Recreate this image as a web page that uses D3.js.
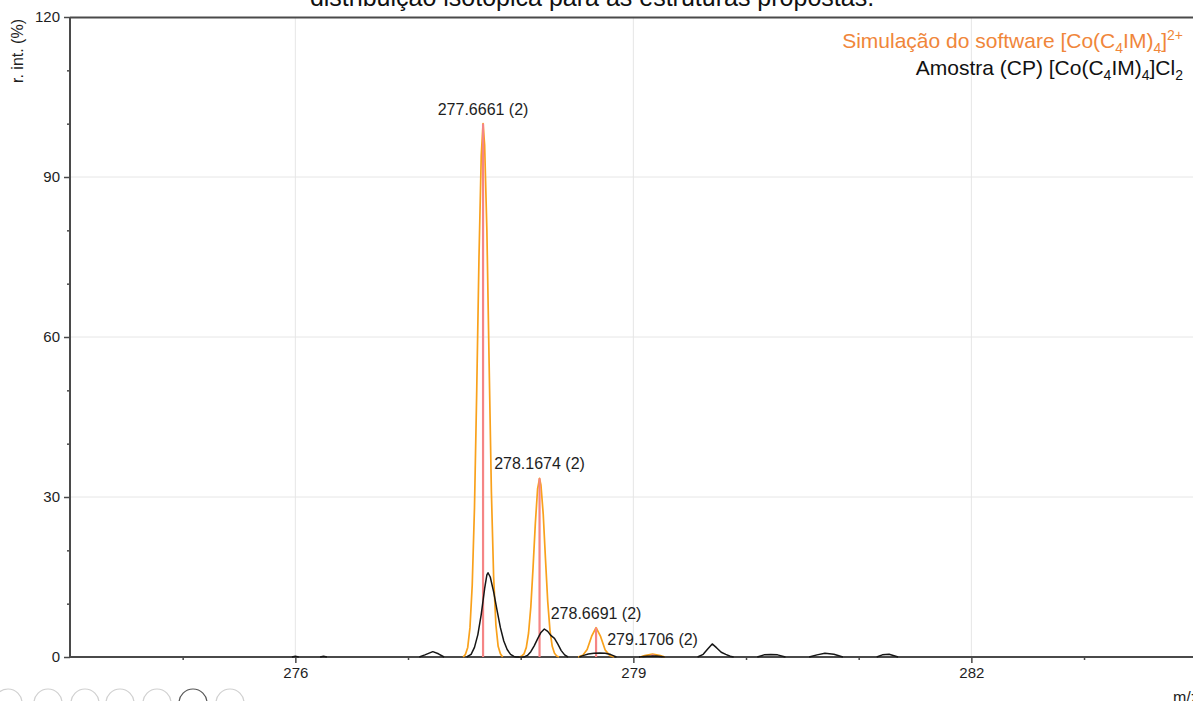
<!DOCTYPE html>
<html>
<head>
<meta charset="utf-8">
<script src="https://cdn.jsdelivr.net/npm/d3@7"></script>
<style>
  html, body { margin: 0; padding: 0; background: #fff; }
  svg { display: block; font-family: Arial, "Liberation Sans", sans-serif; }
</style>
</head>
<body>
<svg id="chart" width="1193" height="701"></svg>
<script>
// ---- Data ----
const titleText = "distribuição isotópica para as estruturas propostas.";
const xTickLabels = [276, 279, 282];
const xMinorTicks = [275, 277, 278, 280, 281, 283];
const yTickLabels = [0, 30, 60, 90, 120];
const yMinorTicks = [10, 20, 40, 50, 70, 80, 100, 110];

// Centroid sticks of the simulation (m/z, intensity %)
const stickMz = [277.6661, 278.1674, 278.6691, 279.1706];
const stickInt = [100, 33.5, 5.5, 0.55];
const stickLabels = ["277.6661 (2)", "278.1674 (2)", "278.6691 (2)", "279.1706 (2)"];

// Simulated profile (orange), segments separated by null
const simMz = [
  277.49, 277.51, 277.53, 277.55, 277.57, 277.59, 277.61, 277.63, 277.65, 277.6661, 277.68, 277.70, 277.72, 277.74, 277.76, 277.78, 277.80, 277.82, 277.84, null,
  277.99, 278.01, 278.03, 278.05, 278.07, 278.09, 278.11, 278.13, 278.15, 278.1674, 278.18, 278.20, 278.22, 278.24, 278.26, 278.28, 278.30, 278.32, 278.34, null,
  278.51, 278.55, 278.59, 278.63, 278.6691, 278.71, 278.75, 278.79, 278.83, null,
  279.06, 279.10, 279.1706, 279.24, 279.28
];
const simInt = [
  0, 0.5, 1.8, 5.5, 13.5, 28, 50, 75, 94, 100, 96, 80, 55, 31, 15, 6, 2, 0.6, 0, null,
  0, 0.2, 0.6, 1.8, 4.5, 9.4, 16.8, 25, 31.5, 33.5, 32.2, 26.8, 18.4, 10.4, 5, 2, 0.7, 0.2, 0, null,
  0, 0.3, 1.4, 3.9, 5.5, 3.8, 1.3, 0.3, 0, null,
  0, 0.25, 0.55, 0.25, 0
];

// Measured sample profile (black), segments separated by null
const sampleMz = [
  275.97, 276.00, 276.03, null,
  276.22, 276.25, 276.28, null,
  277.10, 277.15, 277.22, 277.27, 277.32, null,
  277.52, 277.56, 277.59, 277.62, 277.65, 277.68, 277.70, 277.71, 277.73, 277.76, 277.79, 277.82, 277.85, 277.88, 277.91, 277.94, 277.96,
  278.03, 278.06, 278.09, 278.12, 278.15, 278.18, 278.21, 278.24, 278.27, 278.30, 278.33, 278.36, 278.39, 278.42, null,
  278.52, 278.56, 278.60, 278.65, 278.70, 278.75, 278.80, 278.85, null,
  279.05, 279.12, 279.20, 279.28, null,
  279.57, 279.62, 279.66, 279.70, 279.74, 279.78, 279.82, 279.86, 279.89, null,
  280.10, 280.16, 280.22, 280.28, 280.35, null,
  280.56, 280.63, 280.70, 280.78, 280.86, null,
  281.16, 281.21, 281.27, 281.35
];
const sampleInt = [
  0, 0.12, 0, null,
  0, 0.12, 0, null,
  0, 0.4, 1.0, 0.6, 0, null,
  0, 0.5, 1.8, 4.2, 8.0, 12.8, 15.4, 15.8, 15.0, 12.2, 8.8, 5.5, 3.0, 1.4, 0.5, 0.1, 0,
  0, 0.3, 1.0, 2.1, 3.4, 4.6, 5.25, 4.8, 4.0, 3.5, 2.4, 1.2, 0.4, 0, null,
  0, 0.3, 0.55, 0.7, 0.75, 0.7, 0.45, 0, null,
  0, 0.15, 0.2, 0, null,
  0, 0.5, 1.5, 2.45, 1.7, 0.9, 0.5, 0.15, 0, null,
  0, 0.4, 0.45, 0.4, 0, null,
  0, 0.4, 0.7, 0.5, 0, null,
  0, 0.4, 0.5, 0
];

const legendSim = "Simulação do software";
const legendSample = "Amostra (CP)";

// ---- Layout ----
const svg = d3.select("#chart");
const plotLeft = 70, plotTop = 17, plotBottom = 657;
const x = d3.scaleLinear().domain([274, 284]).range([plotLeft, plotLeft + 10 * 112.67]);
const y = d3.scaleLinear().domain([0, 120]).range([plotBottom, plotTop]);

const cOrange = "#f9a11b";
const cRed = "#f58585";
const cLegend = "#f0863a";
const cAxis = "#4a4a4a";
const cText = "#1e1e1e";

// Title (clipped at top)
svg.append("text").attr("x", 592).attr("y", 6).attr("text-anchor", "middle")
  .attr("font-size", 25).attr("fill", "#111").text(titleText);

// Gridlines
svg.append("g").selectAll("line").data([30, 60, 90]).join("line")
  .attr("x1", plotLeft).attr("x2", 1193).attr("y1", d => y(d)).attr("y2", d => y(d))
  .attr("stroke", "#e6e6e6").attr("stroke-width", 1);
svg.append("g").selectAll("line").data(xTickLabels).join("line")
  .attr("x1", d => x(d)).attr("x2", d => x(d)).attr("y1", plotTop).attr("y2", plotBottom)
  .attr("stroke", "#e6e6e6").attr("stroke-width", 1);

// Top frame line
svg.append("line").attr("x1", plotLeft).attr("x2", 1193).attr("y1", plotTop + 0.5).attr("y2", plotTop + 0.5)
  .attr("stroke", cAxis).attr("stroke-width", 2);

// Axes
const xMajor = d3.axisBottom(x).tickValues(xTickLabels).tickSize(6).tickPadding(4).tickFormat(d3.format("d"));
const xMinor = d3.axisBottom(x).tickValues(xMinorTicks).tickSize(3).tickFormat("");
const yMajor = d3.axisLeft(y).tickValues(yTickLabels).tickSize(6).tickPadding(4).tickFormat(d3.format("d"));
const yMinor = d3.axisLeft(y).tickValues(yMinorTicks).tickSize(3).tickFormat("");

function styleAxis(g) {
  g.select(".domain").remove();
  g.selectAll(".tick line").attr("stroke", cAxis).attr("stroke-width", 1.5);
  g.selectAll(".tick text").attr("fill", cText).attr("font-size", 15).attr("font-family", "Arial, 'Liberation Sans', sans-serif");
}
svg.append("g").attr("transform", `translate(0,${plotBottom})`).call(xMinor).call(styleAxis);
svg.append("g").attr("transform", `translate(0,${plotBottom})`).call(xMajor).call(styleAxis);
svg.append("g").attr("transform", `translate(${plotLeft},0)`).call(yMinor).call(styleAxis);
svg.append("g").attr("transform", `translate(${plotLeft},0)`).call(yMajor).call(styleAxis);

// Axis lines
svg.append("line").attr("x1", plotLeft).attr("x2", 1193).attr("y1", plotBottom).attr("y2", plotBottom)
  .attr("stroke", cAxis).attr("stroke-width", 2);
svg.append("line").attr("x1", plotLeft).attr("x2", plotLeft).attr("y1", plotTop).attr("y2", plotBottom)
  .attr("stroke", cAxis).attr("stroke-width", 2);

// Axis titles
svg.append("text").attr("transform", "translate(23,51) rotate(-90)").attr("text-anchor", "middle")
  .attr("font-size", 16).attr("fill", cText).text("r. int. (%)");
svg.append("text").attr("x", 1173).attr("y", 703).attr("font-size", 16).attr("fill", cText).text("m/z");

// Profiles
const simData = simMz.map((m, i) => [m, simInt[i]]);
const sampleData = sampleMz.map((m, i) => [m, sampleInt[i]]);
const line = d3.line().defined(d => d[0] != null && d[1] != null).x(d => x(d[0])).y(d => y(d[1]));

svg.append("path").datum(simData).attr("d", line).attr("fill", "none")
  .attr("stroke", cOrange).attr("stroke-width", 1.7).attr("stroke-linejoin", "round");

// Sticks
svg.append("g").selectAll("line").data(stickMz).join("line")
  .attr("x1", d => x(d)).attr("x2", d => x(d)).attr("y1", y(0)).attr("y2", (d, i) => y(stickInt[i]))
  .attr("stroke", cRed).attr("stroke-width", 2.2);

svg.append("path").datum(sampleData).attr("d", line).attr("fill", "none")
  .attr("stroke", "#161616").attr("stroke-width", 1.5).attr("stroke-linejoin", "round");

// Stick labels
svg.append("g").selectAll("text").data(stickMz).join("text")
  .attr("x", d => x(d)).attr("y", (d, i) => y(stickInt[i]) - 9)
  .attr("text-anchor", "middle").attr("font-size", 16).attr("fill", cText)
  .text((d, i) => stickLabels[i]);

// Legend
const l1 = svg.append("text").attr("x", 1183).attr("y", 48).attr("text-anchor", "end")
  .attr("font-size", 21).attr("fill", cLegend);
l1.append("tspan").text(legendSim + " [Co(C");
l1.append("tspan").attr("font-size", 14).attr("dy", 5).text("4");
l1.append("tspan").attr("dy", -5).text("IM)");
l1.append("tspan").attr("font-size", 14).attr("dy", 5).text("4");
l1.append("tspan").attr("dy", -5).text("]");
l1.append("tspan").attr("font-size", 14).attr("dy", -8).text("2+");

const l2 = svg.append("text").attr("x", 1183).attr("y", 75).attr("text-anchor", "end")
  .attr("font-size", 21).attr("fill", "#111");
l2.append("tspan").text(legendSample + " [Co(C");
l2.append("tspan").attr("font-size", 14).attr("dy", 5).text("4");
l2.append("tspan").attr("dy", -5).text("IM)");
l2.append("tspan").attr("font-size", 14).attr("dy", 5).text("4");
l2.append("tspan").attr("dy", -5).text("]Cl");
l2.append("tspan").attr("font-size", 14).attr("dy", 5).text("2");

// Toolbar circles (cut at bottom)
const toolX = [8, 48, 85, 120, 157, 193, 230];
svg.append("g").selectAll("circle").data(toolX).join("circle")
  .attr("cx", d => d).attr("cy", 703).attr("r", 14)
  .attr("fill", "none").attr("stroke", (d, i) => i === 5 ? "#555" : "#d0d0d0").attr("stroke-width", 1.2);
</script>
</body>
</html>
